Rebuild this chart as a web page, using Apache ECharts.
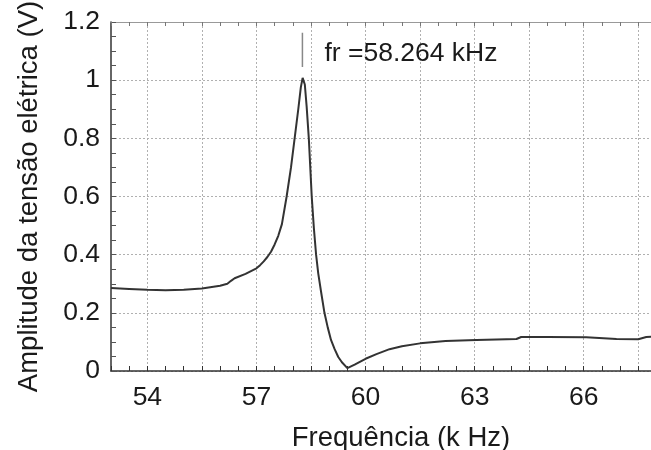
<!DOCTYPE html>
<html>
<head>
    <meta charset="utf-8">
    <title>Frequência de ressonância</title>
    <script src="https://cdn.jsdelivr.net/npm/echarts@6/dist/echarts.min.js"></script>
    <style>
        html, body { margin: 0; padding: 0; background: #fff; }
        #chart { width: 651px; height: 450px; }
    </style>
</head>
<body>
    <div id="chart"></div>
    <script>
        // frequencia (kHz) e amplitude (V)
        var freq = [53.0, 53.5, 54.0, 54.5, 55.0, 55.5, 56.0, 56.2, 56.3, 56.4, 56.7, 57.0, 57.1, 57.2, 57.3, 57.4, 57.5, 57.6,
            57.7, 57.83, 57.95, 58.05, 58.15, 58.22, 58.27, 58.29, 58.33, 58.38, 58.44, 58.52, 58.58, 58.64, 58.7, 58.78,
            58.87, 58.96, 59.05, 59.15, 59.25, 59.35, 59.5, 59.7, 60.0, 60.3, 60.66, 61.0, 61.5, 62.2, 63.05, 64.15,
            64.28, 65.0, 66.07, 66.9, 67.5, 67.72, 67.85];
        var amp = [0.285, 0.282, 0.279, 0.278, 0.279, 0.284, 0.293, 0.300, 0.310, 0.319, 0.334, 0.353, 0.364, 0.377, 0.392, 0.41, 0.435, 0.465,
            0.505, 0.6, 0.7, 0.8, 0.9, 0.975, 1.008, 1.012, 0.985, 0.91, 0.8, 0.6, 0.49, 0.4, 0.335, 0.27,
            0.2, 0.15, 0.107, 0.075, 0.048, 0.03, 0.01, 0.022, 0.042, 0.058, 0.075, 0.085, 0.095, 0.103, 0.107, 0.110,
            0.117, 0.117, 0.116, 0.110, 0.109, 0.117, 0.118];
        var xLabels = [54, 57, 60, 63, 66];
        var xGrid = [54, 55.5, 57, 58.5, 60, 61.5, 63, 64.5, 66, 67.5];
        var fr = 58.264;
        var frMarker = [1.045, 1.163];
        var frText = 'fr =58.264 kHz';

        var font = 'Liberation Sans, Arial, sans-serif';
        var ink = '#1a1a1a';
        var chart = echarts.init(document.getElementById('chart'));
        var option = {
            animation: false,
            grid: { left: 111, top: 22, right: 0, bottom: 79, outerBoundsMode: 'none', containLabel: false },
            xAxis: [{
                type: 'value', min: 53, max: 67.85,
                name: 'Frequência (k Hz)', nameLocation: 'middle', nameGap: 53,
                nameTextStyle: { fontFamily: font, fontSize: 27.5, color: ink, padding: [0, 0, 0, 40] },
                axisLine: { show: true, lineStyle: { color: '#333', width: 1.5 } },
                axisTick: { show: false, customValues: xGrid },
                axisLabel: { customValues: xLabels, margin: 13, fontFamily: font, fontSize: 26.5, color: ink },
                splitLine: { show: true, lineStyle: { color: '#b0b0b0', type: [2, 2], width: 1 } }
            }, {
                // petits traits tous les 0.5 kHz
                type: 'value', min: 53, max: 67.85, interval: 0.5, position: 'bottom',
                axisLine: { show: false },
                axisTick: { show: true, inside: true, length: 5, lineStyle: { color: '#333' } },
                axisLabel: { show: false },
                splitLine: { show: false }
            }, {
                type: 'value', min: 53, max: 67.85, interval: 0.5, position: 'top',
                axisLine: { show: true, lineStyle: { color: '#999', width: 1 } },
                axisTick: { show: true, inside: true, length: 4, lineStyle: { color: '#777' } },
                axisLabel: { show: false },
                splitLine: { show: false }
            }],
            yAxis: [{
                type: 'value', min: 0, max: 1.2, interval: 0.2,
                name: 'Amplitude da tensão elétrica (V)', nameLocation: 'middle', nameGap: 68, nameRotate: 90,
                nameTextStyle: { fontFamily: font, fontSize: 27.5, color: ink },
                axisLine: { show: true, lineStyle: { color: '#333', width: 1.5 } },
                axisTick: { show: false },
                axisLabel: { margin: 11, fontFamily: font, fontSize: 26.5, color: ink },
                splitLine: { show: true, lineStyle: { color: '#b0b0b0', type: [2, 2], width: 1 } }
            }, {
                type: 'value', min: 0, max: 1.2, interval: 0.05, position: 'left',
                axisLine: { show: false },
                axisTick: { show: true, inside: true, length: 5, lineStyle: { color: '#555' } },
                axisLabel: { show: false },
                splitLine: { show: false }
            }],
            series: [{
                type: 'line',
                data: freq.map(function (f, i) { return [f, amp[i]]; }),
                showSymbol: false,
                lineStyle: { color: '#333', width: 2 }
            }, {
                type: 'line',
                data: frMarker.map(function (v) { return [fr, v]; }),
                showSymbol: false,
                lineStyle: { color: '#888', width: 1.5 }
            }, {
                type: 'scatter',
                data: [[fr, 1.09]],
                symbolSize: 0,
                itemStyle: { opacity: 1 },
                label: {
                    show: true, position: 'right', distance: 22, formatter: frText,
                    fontFamily: font, fontSize: 26.5, color: ink
                }
            }]
        };
        chart.setOption(option);
    </script>
</body>
</html>
